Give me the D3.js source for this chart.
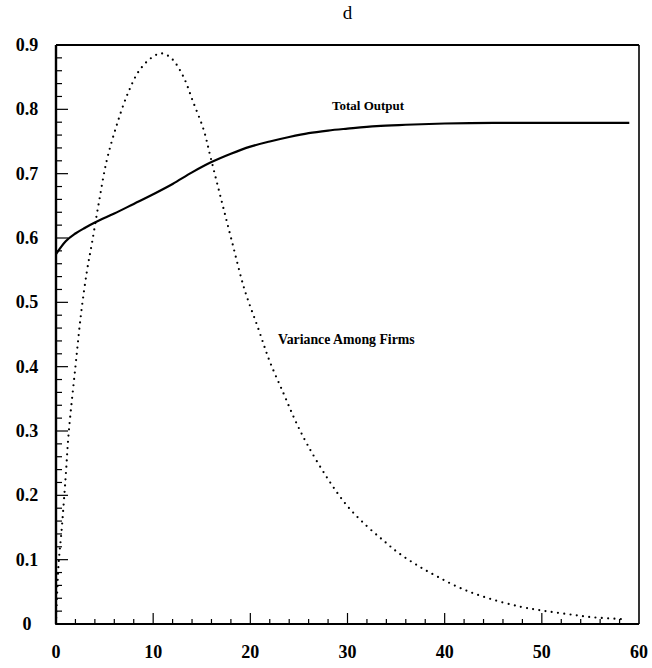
<!DOCTYPE html>
<html>
<head>
<meta charset="utf-8">
<script src="https://cdn.jsdelivr.net/npm/d3@7"></script>
<style>
  html, body { margin: 0; padding: 0; background: #fff; }
  svg { display: block; }
  text { font-family: "Liberation Serif", "Times New Roman", "DejaVu Serif", serif; fill: #000; }
</style>
</head>
<body>
<svg id="chart" width="652" height="668"></svg>
<script>
// Time periods (x) and the two simulated series
const outputX = [0, 1, 2, 3, 4, 6, 8, 10, 12, 14, 16, 18, 20, 22, 24, 26, 28, 30, 33, 36, 40, 45, 50, 55, 59];
const totalOutput = [0.575, 0.595, 0.607, 0.616, 0.624, 0.638, 0.653, 0.668, 0.684, 0.702, 0.718, 0.731, 0.742,
                     0.750, 0.757, 0.763, 0.767, 0.770, 0.774, 0.776, 0.778, 0.779, 0.779, 0.779, 0.779];

const varianceX = [0, 0.25, 0.6, 1.0, 1.3, 2.0, 2.6, 3.2, 3.7, 4.4, 5.2, 6.2, 7.4, 8.6, 10.0, 10.9, 11.9, 13.1,
                   14.1, 15.2, 15.9, 17.0, 18.1, 19.4, 20.8, 22.0, 23.4, 24.6, 25.9, 28, 30, 32, 33.75, 35.2,
                   37.1, 39.2, 41.75, 44.5, 47.75, 50, 52.6, 55.3, 58.7];
const variance = [0, 0.09, 0.15, 0.23, 0.296, 0.40, 0.485, 0.55, 0.592, 0.654, 0.719, 0.773, 0.825, 0.861,
                  0.882, 0.887, 0.879, 0.851, 0.812, 0.768, 0.726, 0.66, 0.595, 0.52, 0.46, 0.408, 0.359,
                  0.317, 0.278, 0.225, 0.183, 0.152, 0.129, 0.111, 0.092, 0.074, 0.055, 0.040, 0.027, 0.021,
                  0.0155, 0.0104, 0.0073];

const xTicks = [0, 10, 20, 30, 40, 50, 60];
const yTicks = [0, 0.1, 0.2, 0.3, 0.4, 0.5, 0.6, 0.7, 0.8, 0.9];
const chartTitle = "d";
const outputLabel = "Total Output";
const varianceLabel = "Variance Among Firms";

const svg = d3.select("#chart");
const plotLeft = 56, plotRight = 639, plotTop = 45, plotBottom = 624;

const x = d3.scaleLinear().domain([0, 60]).range([plotLeft, plotRight]);
const y = d3.scaleLinear().domain([0, 0.9]).range([plotBottom, plotTop]);

// Minor ticks every 2 on x, every 0.02 on y
const xMinor = d3.range(0, 61, 2).filter(v => v % 10 !== 0);
const yMinor = d3.range(0, 46).map(i => i / 50).filter(v => Math.abs(v * 10 - Math.round(v * 10)) > 1e-6);

const g = svg.append("g");

// Ticks pointing inward
g.selectAll(".xmaj").data(xTicks.slice(1, -1)).join("line")
  .attr("x1", d => x(d)).attr("x2", d => x(d))
  .attr("y1", plotBottom).attr("y2", plotBottom - 11)
  .attr("stroke", "#000").attr("stroke-width", 1.2);
g.selectAll(".xmin").data(xMinor).join("line")
  .attr("x1", d => x(d)).attr("x2", d => x(d))
  .attr("y1", plotBottom).attr("y2", plotBottom - 5)
  .attr("stroke", "#000").attr("stroke-width", 1.2);
g.selectAll(".ymaj").data(yTicks.slice(1, -1)).join("line")
  .attr("x1", plotLeft).attr("x2", plotLeft + 12)
  .attr("y1", d => y(d)).attr("y2", d => y(d))
  .attr("stroke", "#000").attr("stroke-width", 1.2);
g.selectAll(".ymin").data(yMinor).join("line")
  .attr("x1", plotLeft).attr("x2", plotLeft + 6)
  .attr("y1", d => y(d)).attr("y2", d => y(d))
  .attr("stroke", "#000").attr("stroke-width", 1.2);

// Frame
g.append("line").attr("x1", plotLeft).attr("x2", plotRight).attr("y1", plotTop).attr("y2", plotTop)
  .attr("stroke", "#000").attr("stroke-width", 1.8);
g.append("line").attr("x1", plotRight).attr("x2", plotRight).attr("y1", plotTop).attr("y2", plotBottom)
  .attr("stroke", "#000").attr("stroke-width", 1.6);
g.append("line").attr("x1", plotLeft).attr("x2", plotRight).attr("y1", plotBottom).attr("y2", plotBottom)
  .attr("stroke", "#000").attr("stroke-width", 2.2);
g.append("line").attr("x1", plotLeft).attr("x2", plotLeft).attr("y1", plotTop).attr("y2", plotBottom)
  .attr("stroke", "#000").attr("stroke-width", 2.4);

// Tick labels
g.selectAll(".xl").data(xTicks).join("text")
  .attr("x", d => x(d)).attr("y", 658)
  .attr("text-anchor", "middle")
  .attr("font-size", 18).attr("font-weight", "bold")
  .text(d => d);
g.selectAll(".yl").data(yTicks).join("text")
  .attr("x", 27).attr("y", d => y(d) + 6)
  .attr("text-anchor", "middle")
  .attr("font-size", 18).attr("font-weight", "bold")
  .text(d => d === 0 ? "0" : d3.format(".1f")(d));

// Title
svg.append("text").attr("x", (plotLeft + plotRight) / 2).attr("y", 19)
  .attr("text-anchor", "middle").attr("font-size", 19)
  .text(chartTitle);

// Curves
const outputLine = d3.line().x((d, i) => x(outputX[i])).y(d => y(d)).curve(d3.curveMonotoneX);
const varianceLine = d3.line().x((d, i) => x(varianceX[i])).y(d => y(d)).curve(d3.curveCatmullRom.alpha(0.5));

g.append("path").datum(totalOutput)
  .attr("d", outputLine)
  .attr("fill", "none").attr("stroke", "#000").attr("stroke-width", 2.2);

g.append("path").datum(variance)
  .attr("d", varianceLine)
  .attr("fill", "none").attr("stroke", "#000").attr("stroke-width", 2.2)
  .attr("stroke-linecap", "round").attr("stroke-dasharray", "0 6.3");

// Series labels
g.append("text").attr("x", 332).attr("y", 110)
  .attr("font-size", 13).attr("font-weight", "bold")
  .text(outputLabel);
g.append("text").attr("x", 278).attr("y", 344)
  .attr("font-size", 13.8).attr("font-weight", "bold")
  .text(varianceLabel);
</script>
</body>
</html>
